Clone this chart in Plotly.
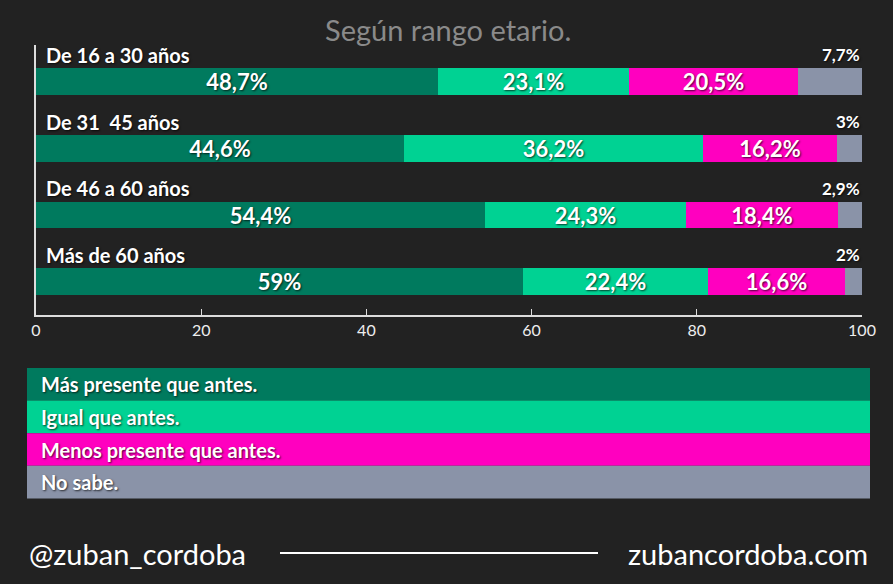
import plotly.graph_objects as go

grupos = ["De 16 a 30 años", "De 31\u00a0\u00a045 años", "De 46 a 60 años", "Más de 60 años"]
mas_presente = [48.7, 44.6, 54.4, 59.0]
igual = [23.1, 36.2, 24.3, 22.4]
menos_presente = [20.5, 16.2, 18.4, 16.6]
no_sabe = [7.7, 3.0, 2.9, 2.0]

series = ["Más presente que antes.", "Igual que antes.", "Menos presente que antes.", "No sabe."]
colores = ["#007A5E", "#00D293", "#FF00BF", "#8A93A8"]
ticks = [0, 20, 40, 60, 80, 100]

bg = "#222222"
fuente = "Lato"
sombra = "1px 1px 2px rgba(0,0,0,0.7)"

# zona del grafico en pixeles
L, R, T, B = 36, 862, 45, 315


def px(x):
    return (x - L) / (R - L)


def py(y):
    return (B - y) / (B - T)


def fmt(v):
    s = ("%.1f" % v).rstrip("0").rstrip(".")
    return s.replace(".", ",") + "%"


fig = go.Figure()
filas = list(range(len(grupos)))
valores = [mas_presente, igual, menos_presente, no_sabe]
for n in range(4):
    fig.add_trace(go.Bar(
        y=filas, x=valores[n], orientation="h", name=series[n],
        marker=dict(color=colores[n], line=dict(width=0)),
        width=0.4,
        text=[fmt(v) for v in valores[n]] if n < 3 else None,
        textposition="inside", insidetextanchor="middle", textangle=0,
        textfont=dict(family=fuente, size=22, color="white", weight="bold", shadow=sombra),
        hoverinfo="skip",
    ))

# nombres de grupo y "no sabe" por encima de la barra
for i, g in enumerate(grupos):
    fig.add_annotation(x=0, y=i - 0.40, xref="x", yref="y", text=g, showarrow=False,
                       xanchor="left", yanchor="middle", xshift=8,
                       font=dict(family=fuente, size=20, color="white", weight="bold", shadow=sombra))
    fig.add_annotation(x=100, y=i - 0.40, xref="x", yref="y", text=fmt(no_sabe[i]), showarrow=False,
                       xanchor="right", yanchor="middle",
                       font=dict(family=fuente, size=17, color="white", weight="bold", shadow=sombra))

# leyenda como bandas de color
for n in range(4):
    top = 368 + n * 32.6
    fig.add_shape(type="rect", xref="paper", yref="paper",
                  x0=px(27), x1=px(870), y0=py(top + 32.6), y1=py(top),
                  fillcolor=colores[n], line=dict(width=0), layer="below")
    fig.add_annotation(xref="paper", yref="paper", x=px(39), y=py(top + 16.3),
                       text=series[n], showarrow=False, xanchor="left", yanchor="middle",
                       font=dict(family=fuente, size=20, color="white", weight="bold", shadow=sombra))

# titulo y pie
fig.add_annotation(xref="paper", yref="paper", x=px(448), y=py(30), yanchor="middle",
                   text="Según rango etario.", showarrow=False,
                   font=dict(family=fuente, size=29, color="#8A8A8A"))
fig.add_annotation(xref="paper", yref="paper", x=px(27), y=py(553), xanchor="left", yanchor="middle",
                   text="@zuban_cordoba", showarrow=False,
                   font=dict(family=fuente, size=29, color="white"))
fig.add_annotation(xref="paper", yref="paper", x=px(870), y=py(553), xanchor="right", yanchor="middle",
                   text="zubancordoba.com", showarrow=False,
                   font=dict(family=fuente, size=29, color="white"))
fig.add_shape(type="line", xref="paper", yref="paper", x0=px(280), x1=px(598),
              y0=py(553), y1=py(553), line=dict(color="white", width=2))

fig.update_layout(
    width=893, height=584,
    margin=dict(l=L, r=893 - R, t=T, b=584 - B),
    paper_bgcolor=bg, plot_bgcolor=bg,
    barmode="stack", bargap=0, showlegend=False,
    uniformtext=dict(minsize=22, mode="show"),
    font=dict(family=fuente, color="white"),
)
fig.update_xaxes(range=[0, 100], tickvals=ticks, ticks="inside", ticklen=6, tickcolor="#DDDDDD",
                 showline=True, linecolor="#DDDDDD", linewidth=2, showgrid=False, zeroline=False,
                 tickfont=dict(family=fuente, size=16, color="#EEEEEE"))
fig.update_yaxes(range=[(B - 81.5) / 66.67, (T - 81.5) / 66.67], showticklabels=False,
                 showgrid=False, zeroline=False,
                 showline=True, linecolor="#DDDDDD", linewidth=1.5, ticks="")

fig.write_html("out.html", config={"displayModeBar": False},
               post_script="document.body.style.margin='0';")
